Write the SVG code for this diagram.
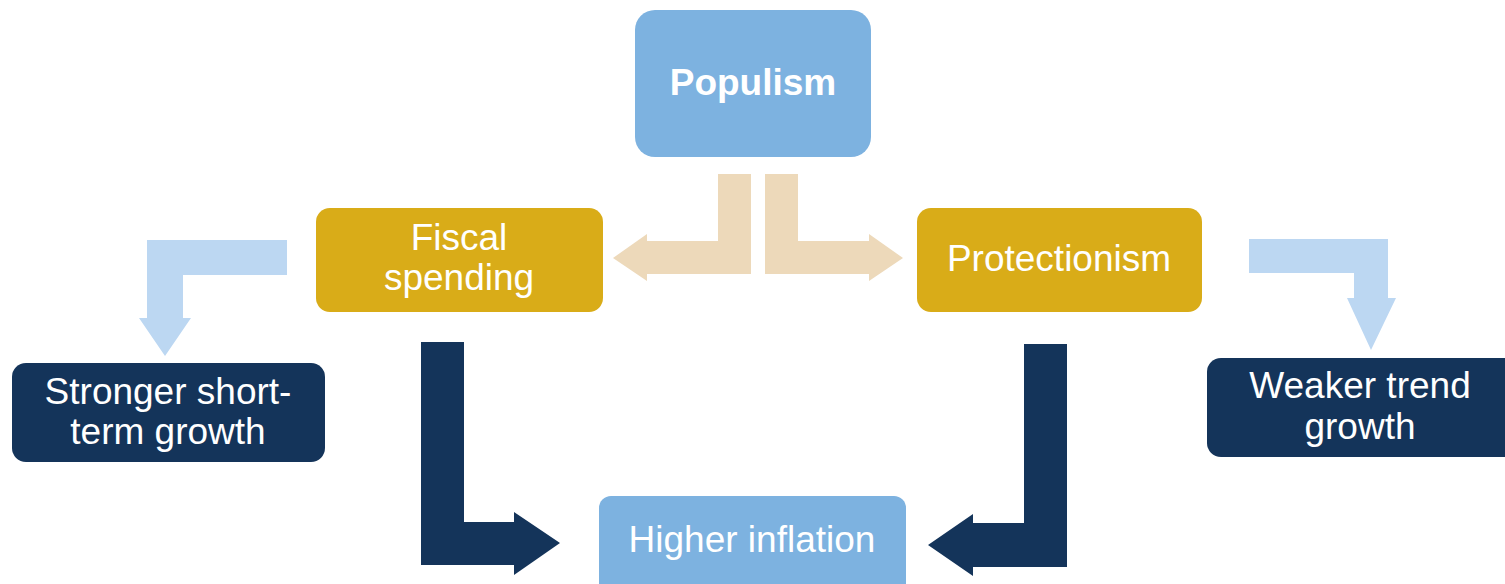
<svg xmlns="http://www.w3.org/2000/svg" width="1505" height="584" viewBox="0 0 1505 584">
  <style>
    .sky { fill: #7DB2E0; }
    .gold { fill: #D9AC18; }
    .navy { fill: #14345A; }
    .beige { fill: #EDD9BA; }
    .pale { fill: #BCD7F2; }
    .label { font-family: "Liberation Sans", Arial, sans-serif; font-size: 37px; fill: #FFFFFF; text-anchor: middle; }
    .bold { font-weight: bold; }
  </style>
  <rect width="1505" height="584" fill="#FFFFFF"/>

  <!-- connectors: bent block arrows -->
  <g id="connectors">
    <!-- Populism -> Fiscal spending -->
    <polygon class="beige" points="718,174 751,174 751,274 647,274 647,281 613,258 647,234 647,241 718,241"/>
    <!-- Populism -> Protectionism -->
    <polygon class="beige" points="765,174 798,174 798,241 869,241 869,234 903,258 869,281 869,274 765,274"/>
    <!-- Fiscal spending -> Stronger short-term growth -->
    <polygon class="pale" points="287,240 287,275 183,275 183,318 191,318 165,356 139,318 147,318 147,240"/>
    <!-- Protectionism -> Weaker trend growth -->
    <polygon class="pale" points="1249,239 1388,239 1388,298 1396,298 1371,350 1347,298 1354,298 1354,273 1249,273"/>
    <!-- Fiscal spending -> Higher inflation -->
    <polygon class="navy" points="421,342 464,342 464,522 514,522 514,512 560,543 514,575 514,565 421,565"/>
    <!-- Protectionism -> Higher inflation -->
    <polygon class="navy" points="1067,344 1067,567 973,567 973,576 928,545 973,514 973,523 1024,523 1024,344"/>
  </g>

  <g id="populism">
    <rect class="sky" x="635" y="10" width="236" height="147" rx="20"/>
    <text class="label bold" x="753" y="95">Populism</text>
  </g>

  <g id="fiscal-spending">
    <rect class="gold" x="316" y="208" width="287" height="104" rx="14"/>
    <text class="label" x="459" y="250">Fiscal</text>
    <text class="label" x="459" y="290">spending</text>
  </g>

  <g id="protectionism">
    <rect class="gold" x="917" y="208" width="285" height="104" rx="14"/>
    <text class="label" x="1059" y="271">Protectionism</text>
  </g>

  <g id="stronger-growth">
    <rect class="navy" x="12" y="363" width="313" height="99" rx="14"/>
    <text class="label" x="168" y="404">Stronger short-</text>
    <text class="label" x="168" y="444">term growth</text>
  </g>

  <g id="weaker-growth">
    <rect class="navy" x="1207" y="358" width="320" height="99" rx="14"/>
    <text class="label" x="1360" y="398">Weaker trend</text>
    <text class="label" x="1360" y="439">growth</text>
  </g>

  <g id="higher-inflation">
    <rect class="sky" x="599" y="496" width="307" height="110" rx="12"/>
    <text class="label" x="752" y="552">Higher inflation</text>
  </g>
</svg>
